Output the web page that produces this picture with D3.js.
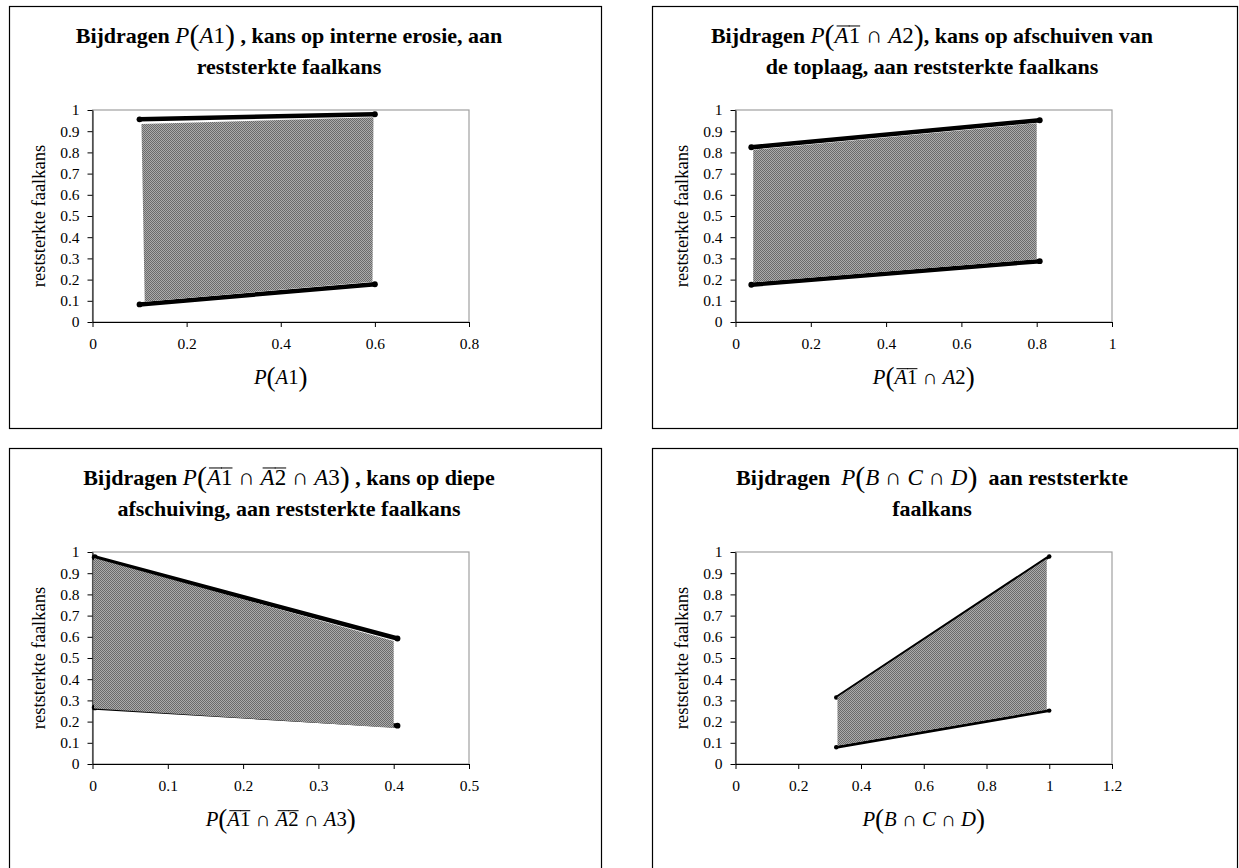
<!DOCTYPE html>
<html>
<head>
<meta charset="utf-8">
<script src="https://cdn.jsdelivr.net/npm/d3@7"></script>
<style>
  body { margin: 0; background: #fff; }
  svg { display: block; }
</style>
</head>
<body>
<svg id="chart" width="1239" height="868"></svg>
<script>
// shared y axis ticks (reststerkte faalkans)
const yTicks = [0, 0.1, 0.2, 0.3, 0.4, 0.5, 0.6, 0.7, 0.8, 0.9, 1];

// chart 1: P(A1)
const xTicks1 = [0, 0.2, 0.4, 0.6, 0.8];
const lineX1 = [0.1, 0.6];
const upperY1 = [0.956, 0.98];
const lowerY1 = [0.083, 0.178];
const fillTopX1 = [0.104, 0.597];
const fillTopY1 = [0.934, 0.966];
const fillBotX1 = [0.111, 0.595];
const fillBotY1 = [0.096, 0.19];

// chart 2: P(not A1 and A2)
const xTicks2 = [0, 0.2, 0.4, 0.6, 0.8, 1];
const lineX2 = [0.042, 0.808];
const upperY2 = [0.824, 0.952];
const lowerY2 = [0.176, 0.287];
const fillTopX2 = [0.047, 0.8];
const fillTopY2 = [0.812, 0.938];
const fillBotX2 = [0.047, 0.8];
const fillBotY2 = [0.187, 0.296];

// chart 3: P(not A1 and not A2 and A3)
const xTicks3 = [0, 0.1, 0.2, 0.3, 0.4, 0.5];
const lineX3 = [0.003, 0.405];
const upperY3 = [0.975, 0.592];
const lowerY3 = [0.267, 0.181];
const fillTopX3 = [0.002, 0.4];
const fillTopY3 = [0.972, 0.58];
const fillBotX3 = [0.002, 0.4];
const fillBotY3 = [0.262, 0.17];

// chart 4: P(B and C and D)
const xTicks4 = [0, 0.2, 0.4, 0.6, 0.8, 1, 1.2];
const lineX4 = [0.321, 1.0];
const upperY4 = [0.314, 0.979];
const lowerY4 = [0.079, 0.252];
const fillTopX4 = [0.325, 0.992];
const fillTopY4 = [0.316, 0.968];
const fillBotX4 = [0.325, 0.992];
const fillBotY4 = [0.086, 0.256];

const serif = "'Liberation Serif', 'Times New Roman', serif";

// title / label pieces: B = bold text, I = italic math, R = upright math, P = big paren
const B = t => ({ t, bold: true, size: 22 });
const I = (t, over) => ({ t, it: true, size: 23, over });
const R = (t, over) => ({ t, size: 23, over });
const P = t => ({ t, size: 30, dy: 2 });

const titles = [
  [[B("Bijdragen "), I("P"), P("("), I("A"), R("1"), P(")"), B(" , kans op interne erosie, aan")],
   [B("reststerkte faalkans")]],
  [[B("Bijdragen "), I("P"), P("("), I("A", true), R("1", true), R(" \u2229 "), I("A"), R("2"), P(")"), B(", kans op afschuiven van")],
   [B("de toplaag, aan reststerkte faalkans")]],
  [[B("Bijdragen "), I("P"), P("("), I("A", true), R("1", true), R(" \u2229 "), I("A", true), R("2", true), R(" \u2229 "), I("A"), R("3"), P(")"), B(" , kans op diepe")],
   [B("afschuiving, aan reststerkte faalkans")]],
  [[B("Bijdragen  "), I("P"), P("("), I("B"), R(" \u2229 "), I("C"), R(" \u2229 "), I("D"), P(")"), B("  aan reststerkte")],
   [B("faalkans")]]
];

// x axis titles (a bit smaller)
const xs = s => Object.assign({}, s, { size: s.size * 0.9 });
const xTitles = [
  [I("P"), P("("), I("A"), R("1"), P(")")].map(xs),
  [I("P"), P("("), I("A", true), R("1", true), R(" \u2229 "), I("A"), R("2"), P(")")].map(xs),
  [I("P"), P("("), I("A", true), R("1", true), R(" \u2229 "), I("A", true), R("2", true), R(" \u2229 "), I("A"), R("3"), P(")")].map(xs),
  [I("P"), P("("), I("B"), R(" \u2229 "), I("C"), R(" \u2229 "), I("D"), P(")")].map(xs)
];

const charts = [
  { left: 9, top: 6, w: 592, h: 422, xMax: 0.8, xTicks: xTicks1, lineX: lineX1, upper: upperY1, lower: lowerY1,
    fTopX: fillTopX1, fTop: fillTopY1, fBotX: fillBotX1, fBot: fillBotY1, lw: 4.5 },
  { left: 652, top: 6, w: 585, h: 422, xMax: 1, xTicks: xTicks2, lineX: lineX2, upper: upperY2, lower: lowerY2,
    fTopX: fillTopX2, fTop: fillTopY2, fBotX: fillBotX2, fBot: fillBotY2, lw: 4.5 },
  { left: 9, top: 448, w: 592, h: 440, xMax: 0.5, xTicks: xTicks3, lineX: lineX3, upper: upperY3, lower: lowerY3,
    fTopX: fillTopX3, fTop: fillTopY3, fBotX: fillBotX3, fBot: fillBotY3, lw: 4.5 },
  { left: 652, top: 448, w: 585, h: 440, xMax: 1.2, xTicks: xTicks4, lineX: lineX4, upper: upperY4, lower: lowerY4,
    fTopX: fillTopX4, fTop: fillTopY4, fBotX: fillBotX4, fBot: fillBotY4, lw: 3 }
];

const svg = d3.select("#chart");

// fine grey dither used by Excel for the band
const pat = svg.append("defs").append("pattern")
  .attr("id", "dither").attr("width", 2).attr("height", 2)
  .attr("patternUnits", "userSpaceOnUse");
pat.append("rect").attr("width", 2).attr("height", 2).attr("fill", "#ababab");
pat.append("rect").attr("width", 1).attr("height", 1).attr("fill", "#6a6a6a");
pat.append("rect").attr("x", 1).attr("y", 1).attr("width", 1).attr("height", 1).attr("fill", "#6a6a6a");

// lays out a row of mixed text pieces, centred on cx
function textRow(g, segs, cx, y) {
  const row = g.append("g");
  let x = 0;
  segs.forEach(s => {
    const t = row.append("text")
      .attr("x", x)
      .attr("y", y + (s.dy || 0))
      .attr("font-family", serif)
      .attr("font-size", s.size)
      .attr("font-weight", s.bold ? "bold" : "normal")
      .attr("font-style", s.it ? "italic" : "normal")
      .style("white-space", "pre")
      .text(s.t);
    const w = t.node().getComputedTextLength();
    if (s.over) {
      const oy = y - s.size * 0.74;
      row.append("line")
        .attr("x1", x + (s.it ? 2 : 0)).attr("x2", x + w + (s.it ? 1 : 0))
        .attr("y1", oy).attr("y2", oy)
        .attr("stroke", "#000").attr("stroke-width", 1);
    }
    x += w;
  });
  row.attr("transform", `translate(${cx - x / 2},0)`);
}

charts.forEach((c, i) => {
  const g = svg.append("g");

  g.append("rect")
    .attr("x", c.left + 0.5).attr("y", c.top + 0.5)
    .attr("width", c.w).attr("height", c.h)
    .attr("fill", "#fff").attr("stroke", "#000").attr("stroke-width", 1.2);

  const px0 = c.left + 83.5, px1 = px0 + 376.5;
  const py0 = c.top + 104, py1 = py0 + 212;

  const x = d3.scaleLinear().domain([0, c.xMax]).range([px0, px1]);
  const y = d3.scaleLinear().domain([0, 1]).range([py1, py0]);

  // plot area frame (grey), axes drawn over it
  g.append("rect")
    .attr("x", px0).attr("y", py0)
    .attr("width", px1 - px0).attr("height", py1 - py0)
    .attr("fill", "#fff").attr("stroke", "#a0a0a0").attr("stroke-width", 1.2);

  const line = d3.line().x(d => x(d[0])).y(d => y(d[1]));

  // boundary lines with end dots
  [c.upper, c.lower].forEach(ys => {
    const pts = c.lineX.map((v, k) => [v, ys[k]]);
    g.append("path")
      .attr("d", line(pts))
      .attr("fill", "none").attr("stroke", "#000")
      .attr("stroke-width", c.lw).attr("stroke-linecap", "round");
    g.selectAll(null).data(pts).enter().append("circle")
      .attr("cx", d => x(d[0])).attr("cy", d => y(d[1]))
      .attr("r", c.lw / 2 + 0.7).attr("fill", "#000");
  });

  // shaded band
  const band = c.fTopX.map((v, k) => [v, c.fTop[k]])
    .concat(c.fBotX.map((v, k) => [v, c.fBot[k]]).reverse());
  g.append("path")
    .attr("d", line.curve(d3.curveLinearClosed)(band))
    .attr("fill", "url(#dither)");

  const fmt = d => String(d);
  const yAxis = g.append("g")
    .attr("transform", `translate(${px0},0)`)
    .call(d3.axisLeft(y).tickValues(yTicks).tickFormat(fmt).tickSize(5).tickSizeOuter(0).tickPadding(8));
  const xAxis = g.append("g")
    .attr("transform", `translate(0,${py1})`)
    .call(d3.axisBottom(x).tickValues(c.xTicks).tickFormat(fmt).tickSize(5).tickSizeOuter(0).tickPadding(11));
  [yAxis, xAxis].forEach(a => {
    a.selectAll("text").attr("font-family", serif).attr("font-size", 15.5).attr("fill", "#000");
    a.selectAll("line, path").attr("stroke", "#000");
  });

  g.append("text")
    .attr("transform", `translate(${c.left + 36},${(py0 + py1) / 2}) rotate(-90)`)
    .attr("text-anchor", "middle")
    .attr("font-family", serif).attr("font-size", 18.5)
    .text("reststerkte faalkans");

  textRow(g, titles[i][0], c.left + 280, c.top + 37);
  textRow(g, titles[i][1], c.left + 280, c.top + 68);
  textRow(g, xTitles[i], (px0 + px1) / 2, c.top + 378);
});
</script>
</body>
</html>
